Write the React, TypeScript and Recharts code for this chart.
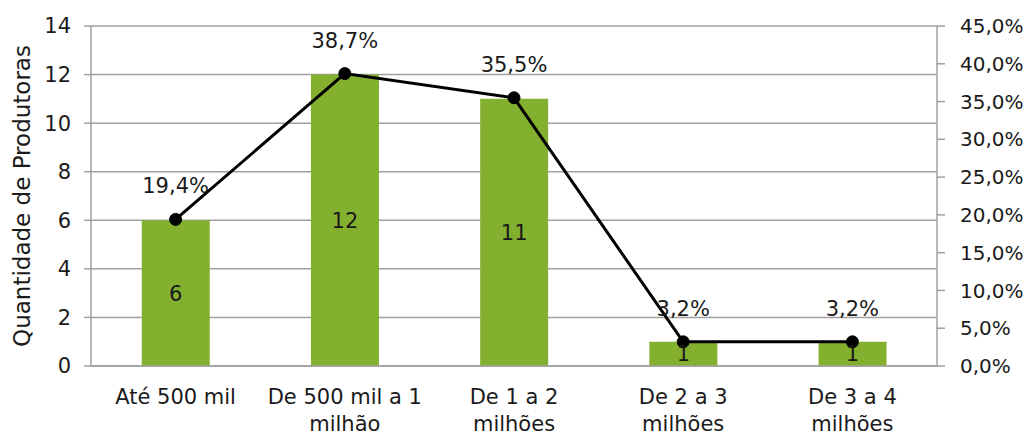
import {
  ComposedChart,
  Bar,
  Line,
  XAxis,
  YAxis,
  CartesianGrid,
  LabelList,
} from 'recharts'

const categorias = [
  'Até 500 mil',
  'De 500 mil a 1 milhão',
  'De 1 a 2 milhões',
  'De 2 a 3 milhões',
  'De 3 a 4 milhões',
]
const quantidade = [6, 12, 11, 1, 1]
const percentual = [19.4, 38.7, 35.5, 3.2, 3.2]
const ticksEsq = [0, 2, 4, 6, 8, 10, 12, 14]
const ticksDir = [0, 5, 10, 15, 20, 25, 30, 35, 40, 45]
const limites = [0, 1, 2, 3, 4, 5]

const dados = categorias.map((c, i) => ({
  categoria: c,
  quantidade: quantidade[i],
  percentual: percentual[i],
}))

const fonte = '"DejaVu Sans", sans-serif'
const corTexto = '#1a1a1a'
const corGrade = '#a0a0a0'

const pct = (v: number) => v.toFixed(1).replace('.', ',') + '%'

// quebra simples por quantidade de caracteres
function quebrar(texto: string, max = 14) {
  const linhas: string[] = []
  let atual = ''
  for (const p of texto.split(' ')) {
    const teste = atual ? atual + ' ' + p : p
    if (teste.length > max && atual) {
      linhas.push(atual)
      atual = p
    } else {
      atual = teste
    }
  }
  if (atual) linhas.push(atual)
  return linhas
}

const TickCategoria = ({ x, y, payload }: any) => {
  const linhas = quebrar(payload.value)
  return (
    <text x={x} y={y} textAnchor="middle" fill={corTexto} fontSize={21} fontFamily={fonte}>
      {linhas.map((l, i) => (
        <tspan key={i} x={x} dy={i === 0 ? '0.71em' : 27}>
          {l}
        </tspan>
      ))}
    </text>
  )
}

export default function App() {
  return (
    <div style={{ position: 'absolute', left: 0, top: 0, background: '#fff' }}>
      <ComposedChart
        width={1029}
        height={436}
        data={dados}
        margin={{ top: 26, right: 0, left: 0, bottom: 0 }}
        barCategoryGap="30%"
      >
        <CartesianGrid vertical={false} stroke={corGrade} strokeWidth={1.5} yAxisId="esq" />
        <XAxis
          xAxisId="limites"
          type="number"
          domain={[0, 5]}
          ticks={limites}
          height={0}
          axisLine={false}
          tickSize={7}
          tickLine={{ stroke: corGrade, strokeWidth: 1.5 }}
          tick={() => <g />}
        />
        <XAxis
          dataKey="categoria"
          height={70}
          tickSize={0}
          tickMargin={23}
          tickLine={false}
          axisLine={{ stroke: corGrade, strokeWidth: 1.5 }}
          tick={<TickCategoria />}
          interval={0}
        />
        <YAxis
          yAxisId="esq"
          domain={[0, 14]}
          ticks={ticksEsq}
          width={91}
          tickSize={7}
          tickMargin={13}
          axisLine={{ stroke: corGrade, strokeWidth: 1.5 }}
          tickLine={{ stroke: corGrade, strokeWidth: 1.5 }}
          tick={{ fill: corTexto, fontSize: 21, fontFamily: fonte }}
          label={{
            content: () => (
              <text
                x={22}
                y={196}
                transform="rotate(-90, 22, 196)"
                textAnchor="middle"
                dominantBaseline="central"
                fill={corTexto}
                fontSize={23}
                fontFamily={fonte}
              >
                Quantidade de Produtoras
              </text>
            ),
          }}
        />
        <YAxis
          yAxisId="dir"
          orientation="right"
          domain={[0, 45]}
          ticks={ticksDir}
          width={92}
          tickSize={8}
          tickMargin={15}
          tickFormatter={pct}
          axisLine={{ stroke: corGrade, strokeWidth: 1.5 }}
          tickLine={{ stroke: corGrade, strokeWidth: 1.5 }}
          tick={{ fill: corTexto, fontSize: 20, fontFamily: fonte }}
        />
        <Bar yAxisId="esq" dataKey="quantidade" fill="#84b02f" isAnimationActive={false}>
          <LabelList
            dataKey="quantidade"
            position="center"
            fill={corTexto}
            fontSize={21}
            fontFamily={fonte}
          />
        </Bar>
        <Line
          yAxisId="dir"
          dataKey="percentual"
          stroke="#000"
          strokeWidth={3}
          dot={{ r: 6, fill: '#000', stroke: '#000', strokeWidth: 1 }}
          activeDot={false}
          isAnimationActive={false}
        >
          <LabelList
            dataKey="percentual"
            position="top"
            offset={26}
            formatter={(v: any) => pct(Number(v))}
            fill={corTexto}
            fontSize={21}
            fontFamily={fonte}
          />
        </Line>
      </ComposedChart>
    </div>
  )
}
